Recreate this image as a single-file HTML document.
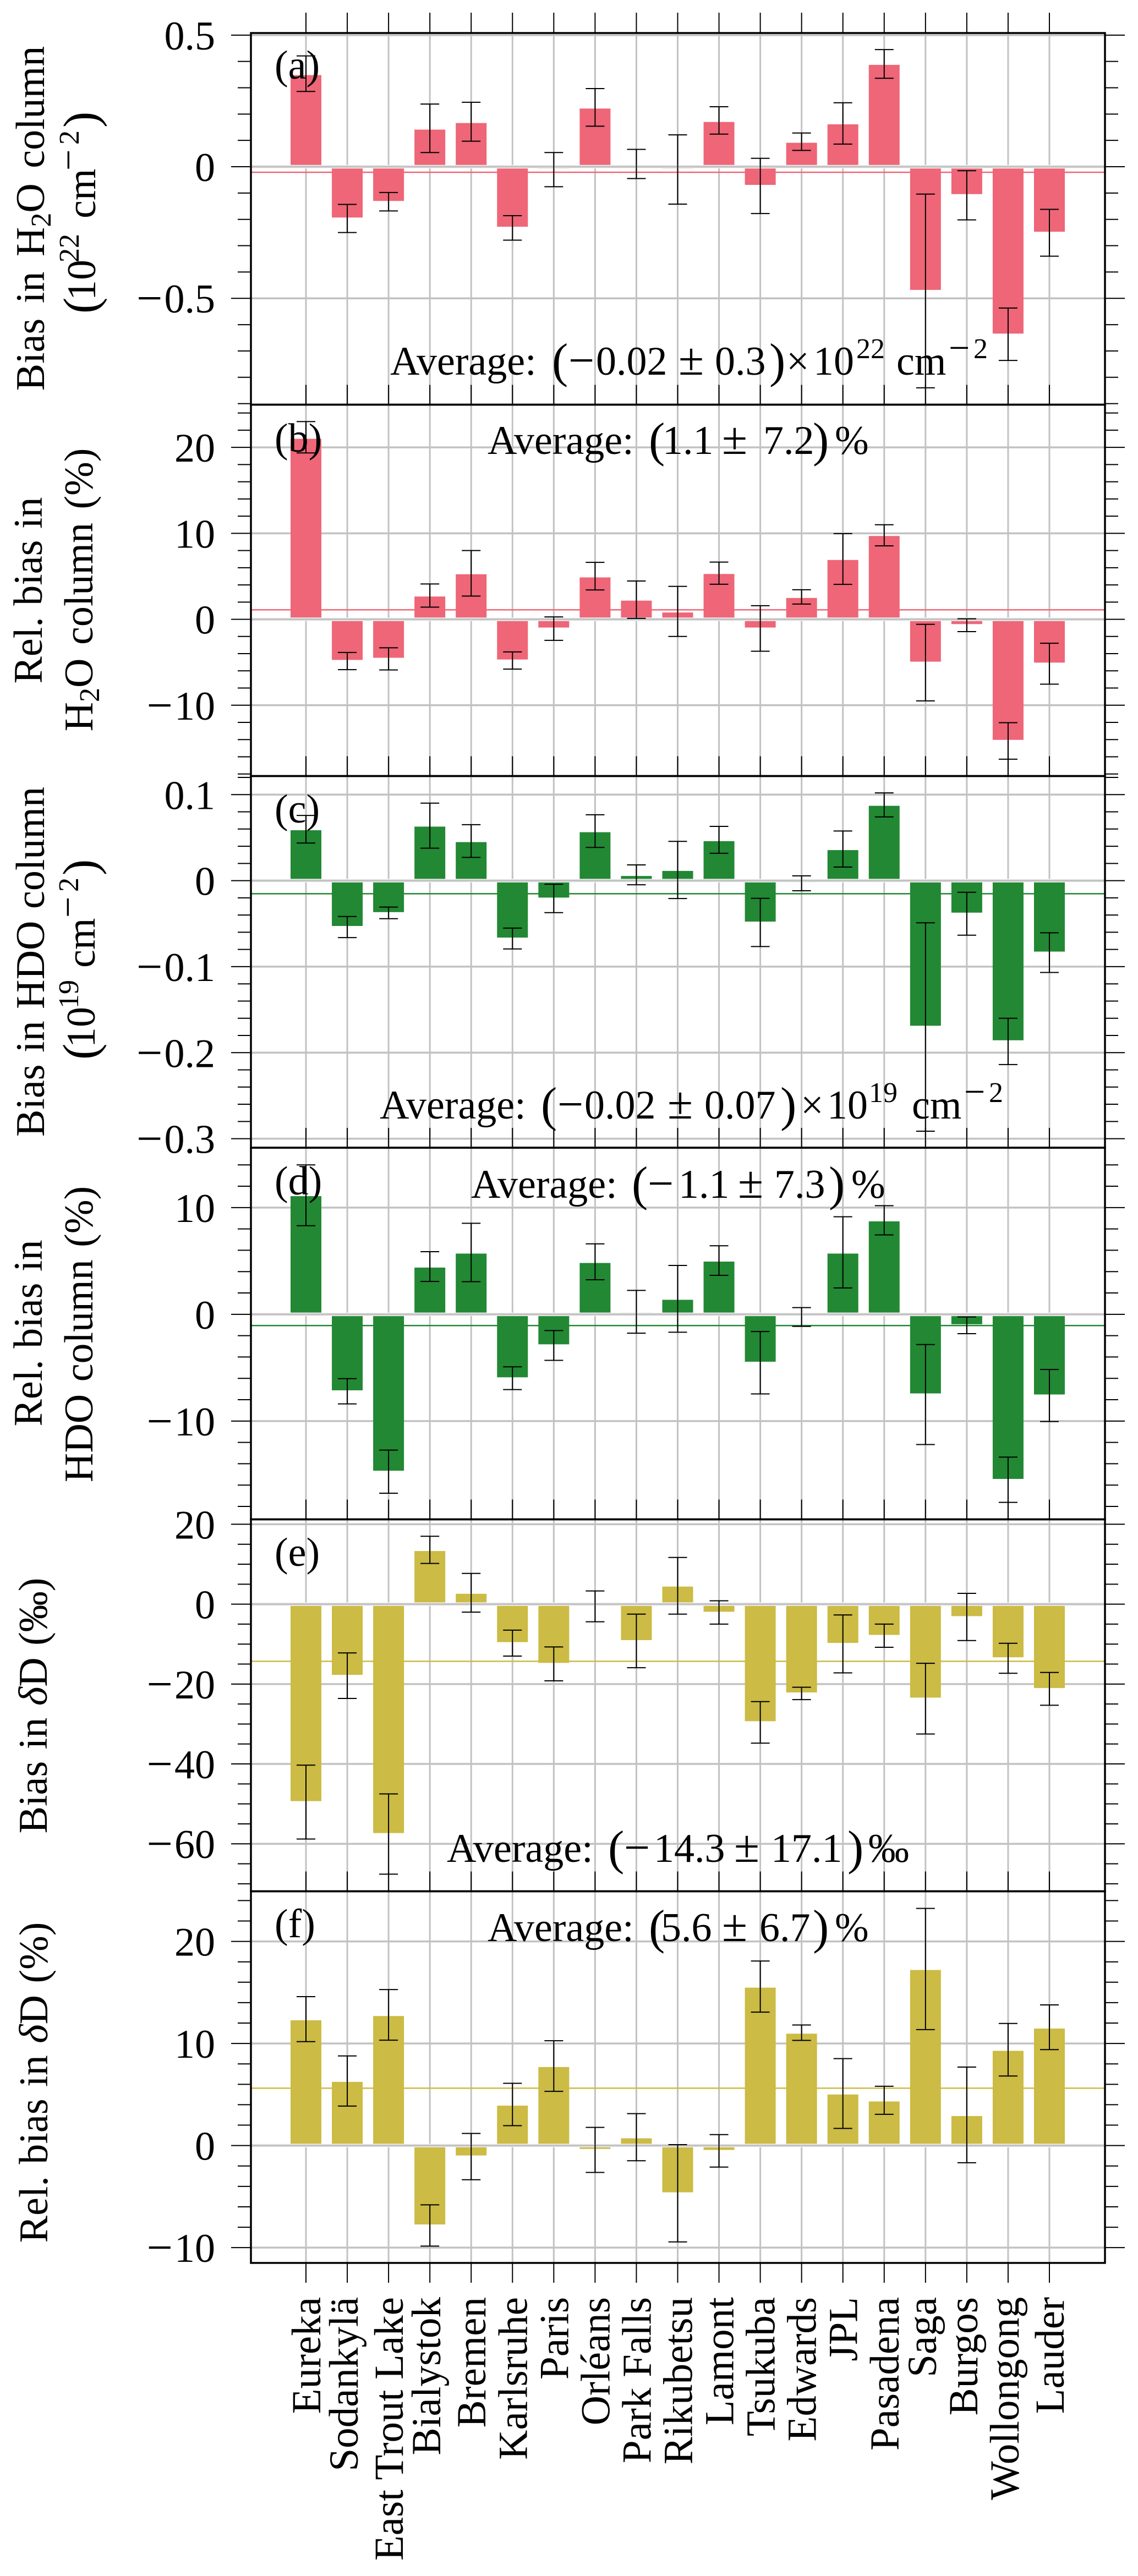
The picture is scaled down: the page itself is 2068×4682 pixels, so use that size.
<!DOCTYPE html>
<html lang="en">
<head>
<meta charset="utf-8">
<title>Bias per station</title>
<style>
html,body{margin:0;padding:0;background:#fff;}
svg{display:block;}
text{font-family:"Liberation Serif","DejaVu Serif",serif;font-size:74px;fill:#000;}
.sup{font-size:52px;}
.sub{font-size:52px;}
.paren{font-size:88px;}
.pm{font-size:84px;}
.supm{font-size:68px;}
</style>
</head>
<body>
<svg id="chart" xmlns="http://www.w3.org/2000/svg" width="2068" height="4682" viewBox="0 0 2068 4682">
<rect x="0" y="0" width="2068" height="4682" fill="#fff"/>
<g id="marks"></g>
<g id="frames"></g>
<g id="xlabels"></g>

<text x="499" y="143">(a)</text>
<text x="499" y="821">(b)</text>
<text x="499" y="1495">(c)</text>
<text x="499" y="2171">(d)</text>
<text x="499" y="2846">(e)</text>
<text x="499" y="3521">(f)</text>

<text x="709" y="681">Average:<tspan class="paren" x="1003" dy="4">(</tspan><tspan class="pm" x="1033" dy="-2">−</tspan><tspan x="1083" dy="-2">0.02</tspan><tspan class="pm" x="1233">±</tspan><tspan x="1299">0.3</tspan><tspan class="paren" x="1398" dy="4">)</tspan><tspan x="1429" dy="-4">×</tspan><tspan x="1478">10</tspan><tspan class="sup" x="1556" dy="-30">22</tspan><tspan x="1629" dy="30">cm</tspan><tspan class="supm" x="1724" dy="-26">−</tspan><tspan class="sup" x="1769" dy="-4">2</tspan></text>
<text x="886" y="825">Average:<tspan class="paren" x="1179" dy="4">(</tspan><tspan x="1204" dy="-4">1.1</tspan><tspan class="pm" x="1312">±</tspan><tspan x="1387">7.2</tspan><tspan class="paren" x="1477" dy="4">)</tspan><tspan x="1517" dy="-4">%</tspan></text>
<text x="690" y="2033">Average:<tspan class="paren" x="983" dy="4">(</tspan><tspan class="pm" x="1013" dy="-2">−</tspan><tspan x="1062" dy="-2">0.02</tspan><tspan class="pm" x="1213">±</tspan><tspan x="1280">0.07</tspan><tspan class="paren" x="1418" dy="4">)</tspan><tspan x="1455" dy="-4">×</tspan><tspan x="1503">10</tspan><tspan class="sup" x="1579" dy="-30">19</tspan><tspan x="1657" dy="30">cm</tspan><tspan class="supm" x="1752" dy="-26">−</tspan><tspan class="sup" x="1797" dy="-4">2</tspan></text>
<text x="856" y="2177">Average:<tspan class="paren" x="1148" dy="4">(</tspan><tspan class="pm" x="1177" dy="-2">−</tspan><tspan x="1233" dy="-2">1.1</tspan><tspan class="pm" x="1341">±</tspan><tspan x="1407">7.3</tspan><tspan class="paren" x="1506" dy="4">)</tspan><tspan x="1547" dy="-4">%</tspan></text>
<text x="812" y="3384">Average:<tspan class="paren" x="1105" dy="4">(</tspan><tspan class="pm" x="1134" dy="-2">−</tspan><tspan x="1188" dy="-2">14.3</tspan><tspan class="pm" x="1334">±</tspan><tspan x="1401">17.1</tspan><tspan class="paren" x="1540" dy="4">)</tspan><tspan x="1578" dy="-4">‰</tspan></text>
<text x="886" y="3528">Average:<tspan class="paren" x="1179" dy="4">(</tspan><tspan x="1201" dy="-4">5.6</tspan><tspan class="pm" x="1312">±</tspan><tspan x="1380">6.7</tspan><tspan class="paren" x="1477" dy="4">)</tspan><tspan x="1517" dy="-4">%</tspan></text>

<g>
<text style="word-spacing:9px" transform="translate(80 397) rotate(-90)" text-anchor="middle">Bias in H<tspan class="sub" dy="12">2</tspan><tspan dy="-12">O column</tspan></text>
<text transform="translate(173 570) rotate(-90)"><tspan class="paren" x="0" dy="3">(</tspan><tspan x="24" dy="-3">10</tspan><tspan class="sup" x="93" dy="-30">22</tspan><tspan x="173" dy="30">cm</tspan><tspan class="supm" x="260" dy="-26">−</tspan><tspan class="sup" x="307" dy="-4">2</tspan><tspan class="paren" x="338" dy="33">)</tspan></text>
</g>
<g>
<text style="word-spacing:2px" transform="translate(76 1073) rotate(-90)" text-anchor="middle">Rel. bias in</text>
<text style="word-spacing:6px" transform="translate(168 1072) rotate(-90)" text-anchor="middle">H<tspan class="sub" dy="12">2</tspan><tspan dy="-12">O column (%)</tspan></text>
</g>
<g>
<text style="word-spacing:3px" transform="translate(80 1748) rotate(-90)" text-anchor="middle">Bias in HDO column</text>
<text transform="translate(172 1926) rotate(-90)"><tspan class="paren" x="0" dy="3">(</tspan><tspan x="22" dy="-3">10</tspan><tspan class="sup" x="93" dy="-30">19</tspan><tspan x="167" dy="30">cm</tspan><tspan class="supm" x="258" dy="-26">−</tspan><tspan class="sup" x="305" dy="-4">2</tspan><tspan class="paren" x="335" dy="33">)</tspan></text>
</g>
<g>
<text style="word-spacing:2px" transform="translate(76 2423) rotate(-90)" text-anchor="middle">Rel. bias in</text>
<text style="word-spacing:4px" transform="translate(168 2425) rotate(-90)" text-anchor="middle">HDO column (%)</text>
</g>
<text style="word-spacing:3px" transform="translate(85 3100) rotate(-90)" text-anchor="middle">Bias in <tspan font-style="italic">δ</tspan>D (‰)</text>
<text style="word-spacing:3px" transform="translate(86 3785) rotate(-90)" text-anchor="middle">Rel. bias in <tspan font-style="italic">δ</tspan>D (%)</text>
</svg>

<script>
const stations = ["Eureka","Sodankylä","East Trout Lake","Bialystok","Bremen","Karlsruhe","Paris","Orléans","Park Falls","Rikubetsu","Lamont","Tsukuba","Edwards","JPL","Pasadena","Saga","Burgos","Wollongong","Lauder"];

const aValues = [0.348,-0.193,-0.130,0.141,0.166,-0.228,-0.007,0.221,0.005,-0.007,0.170,-0.069,0.091,0.161,0.387,-0.468,-0.104,-0.634,-0.247];
const aUpper  = [0.421,-0.143,-0.098,0.238,0.245,-0.186,0.054,0.297,0.066,0.121,0.228,0.032,0.128,0.243,0.445,-0.104,-0.015,-0.537,-0.162];
const aLower  = [0.286,-0.250,-0.168,0.054,0.097,-0.279,-0.076,0.154,-0.045,-0.142,0.124,-0.178,0.062,0.086,0.336,-0.840,-0.202,-0.736,-0.340];
const aAverage = -0.021;
const aTicks = [0.5,0,-0.5];

const bValues = [21.0,-4.73,-4.48,2.65,5.24,-4.68,-0.96,4.87,2.17,0.79,5.27,-0.96,2.48,6.90,9.69,-4.93,-0.56,-14.03,-5.04];
const bUpper  = [23.0,-3.86,-3.32,4.11,8.00,-3.80,0.28,6.62,4.45,3.83,6.65,1.58,3.44,9.97,11.0,-0.59,0.06,-12.03,-2.79];
const bLower  = [19.35,-5.86,-5.89,1.41,2.70,-5.80,-2.45,3.41,0.11,-2.00,4.08,-3.72,1.77,4.06,8.54,-9.49,-1.44,-16.28,-7.55];
const bAverage = 1.1;
const bTicks = [20,10,0,-10];

const cValues = [0.0586,-0.0527,-0.0366,0.0628,0.0448,-0.0662,-0.0197,0.0563,0.0054,0.0113,0.0459,-0.0476,-0.0020,0.0355,0.0870,-0.1687,-0.0372,-0.1856,-0.0825];
const cUpper  = [0.0758,-0.0417,-0.0307,0.0901,0.0651,-0.0552,-0.0042,0.0766,0.0183,0.0456,0.0631,-0.0206,0.0056,0.0577,0.1020,-0.0490,-0.0135,-0.1600,-0.0606];
const cLower  = [0.0437,-0.0662,-0.0442,0.0377,0.0270,-0.0794,-0.0372,0.0386,-0.0048,-0.0208,0.0318,-0.0766,-0.0118,0.0158,0.0741,-0.2913,-0.0634,-0.2138,-0.1068];
const cAverage = -0.0152;
const cTicks = [0.1,0,-0.1,-0.2,-0.3];

const dValues = [11.07,-7.12,-14.65,4.38,5.69,-5.90,-2.81,4.81,0.16,1.36,4.94,-4.44,-0.16,5.69,8.71,-7.41,-0.93,-15.42,-7.51];
const dUpper  = [14.0,-6.03,-12.72,5.87,8.53,-4.92,-1.52,6.60,2.24,4.58,6.42,-1.61,0.63,9.14,10.18,-2.83,-0.25,-13.38,-5.17];
const dLower  = [8.3,-8.39,-16.76,3.08,3.06,-7.05,-4.31,3.24,-1.77,-1.68,3.65,-7.46,-1.13,2.47,7.44,-12.2,-1.81,-17.62,-10.05];
const dAverage = -1.05;
const dTicks = [10,0,-10];

const eValues = [-49.3,-17.7,-57.3,13.3,2.6,-9.5,-14.7,-0.3,-9.0,4.4,-1.9,-29.3,-22.1,-9.7,-7.7,-23.4,-3.0,-13.3,-21.0];
const eUpper  = [-40.3,-12.2,-47.5,17.0,7.7,-6.5,-10.7,3.3,-2.5,11.7,0.85,-24.4,-20.8,-2.7,-5.0,-14.8,2.7,-9.8,-17.1];
const eLower  = [-58.8,-23.6,-67.6,10.2,-2.0,-13.0,-19.2,-4.4,-15.9,-2.5,-5.0,-34.8,-23.9,-17.2,-10.8,-32.5,-9.1,-17.3,-25.3];
const eAverage = -14.3;
const eTicks = [20,0,-20,-40,-60];

const fValues = [12.27,6.24,12.69,-7.73,-0.97,3.91,7.69,-0.33,0.71,-4.58,-0.43,15.47,10.96,5.0,4.32,17.2,2.89,9.28,11.46];
const fUpper  = [14.59,8.78,15.28,-5.81,1.19,6.10,10.27,1.78,3.13,0.09,1.07,18.08,11.81,8.52,5.81,23.23,7.69,11.96,13.78];
const fLower  = [10.18,3.87,10.32,-9.85,-3.35,1.95,5.31,-2.63,-1.49,-9.44,-2.11,13.07,10.30,1.68,3.06,11.36,-1.68,6.81,9.40];
const fAverage = 5.62;
const fTicks = [20,10,0,-10];

const NS = "http://www.w3.org/2000/svg";
const marks = document.getElementById("marks");
const frames = document.getElementById("frames");
const xlabels = document.getElementById("xlabels");
const plotLeft = 456, plotRight = 2008;
const firstStationX = 556, lastStationX = 1907;
const GRID = "#c2c2c2";

function xScale(i) {
  return firstStationX + i * (lastStationX - firstStationX) / (stations.length - 1);
}

function makeLine(parent, x1, y1, x2, y2, color, width) {
  const el = document.createElementNS(NS, "line");
  el.setAttribute("x1", x1);
  el.setAttribute("y1", y1);
  el.setAttribute("x2", x2);
  el.setAttribute("y2", y2);
  el.setAttribute("stroke", color);
  el.setAttribute("stroke-width", width);
  parent.appendChild(el);
  return el;
}

function drawPanel(id, values, upper, lower, average, ticks, minorStep, domTop, domBottom, top, bottom, color, outTop, outBottom) {
  const y = v => top + (domTop - v) * (bottom - top) / (domTop - domBottom);
  const g = document.createElementNS(NS, "g");
  
  
  marks.appendChild(g);

  stations.forEach((s, i) => {
    const grid = makeLine(g, xScale(i), top, xScale(i), bottom, GRID, 3);
    
    
  });

  ticks.forEach(t => {
    if (t === 0) return;
    const grid = makeLine(g, plotLeft, y(t), plotRight, y(t), GRID, 3.5);
    
    
  });

  const avg = makeLine(g, plotLeft, y(average), plotRight, y(average), color, 2.5);
  
  

  values.forEach((v, i) => {
    const bar = document.createElementNS(NS, "rect");
    bar.setAttribute("x", xScale(i) - 28);
    bar.setAttribute("width", 56);
    bar.setAttribute("y", Math.min(y(v), y(0)));
    bar.setAttribute("height", Math.abs(y(v) - y(0)));
    bar.setAttribute("fill", color);
    
    
    g.appendChild(bar);
  });

  const zeroHalo = makeLine(g, plotLeft, y(0), plotRight, y(0), "#f4f4f4", 6.5);
  
  
  const zero = makeLine(g, plotLeft, y(0), plotRight, y(0), GRID, 3.5);
  
  

  values.forEach((v, i) => {
    const cx = xScale(i);
    const stem = makeLine(g, cx, y(upper[i]), cx, y(lower[i]), "#000", 2);
    
    
    const capU = makeLine(g, cx - 17, y(upper[i]), cx + 17, y(upper[i]), "#000", 2);
    
    
    const capL = makeLine(g, cx - 17, y(lower[i]), cx + 17, y(lower[i]), "#000", 2);
    
    
  });

  stations.forEach((s, i) => {
    const cx = xScale(i);
    const y1 = outBottom ? bottom : bottom - 36;
    const y2 = outBottom ? bottom + 36 : bottom;
    const tick = makeLine(g, cx, y1, cx, y2, "#000", 2);
    
    
    if (outTop) {
      const tickTop = makeLine(g, cx, top - 37, cx, top, "#000", 2);
      
      
    }
  });

  const n = Math.ceil(Math.max(Math.abs(domTop), Math.abs(domBottom)) / minorStep);
  for (let k = -n; k <= n; k++) {
    const v = k * minorStep;
    if (v > domTop || v < domBottom) continue;
    const t = y(v);
    const isMajor = ticks.some(m => Math.abs(m - v) < minorStep / 10);
    const len = isMajor ? 36 : 24;
    const left = makeLine(g, plotLeft - len, t, plotLeft, t, "#000", 2);
    
    
    const right = makeLine(g, plotRight, t, plotRight + len, t, "#000", 2);
    
    
  }

  ticks.forEach(t => {
    const label = document.createElementNS(NS, "text");
    label.setAttribute("x", 391);
    label.setAttribute("y", y(t) + 26);
    label.setAttribute("text-anchor", "end");
    if (t < 0) {
      const minus = document.createElementNS(NS, "tspan");
      minus.setAttribute("class", "pm");
      minus.setAttribute("dy", 2);
      minus.textContent = "−";
      label.appendChild(minus);
      const digits = document.createElementNS(NS, "tspan");
      digits.setAttribute("dy", -2);
      digits.setAttribute("dx", 3);
      digits.textContent = String(-t);
      label.appendChild(digits);
    } else {
      label.textContent = String(t);
    }
    
    
    g.appendChild(label);
  });

  const frame = document.createElementNS(NS, "rect");
  frame.setAttribute("x", plotLeft);
  frame.setAttribute("y", top);
  frame.setAttribute("width", plotRight - plotLeft);
  frame.setAttribute("height", bottom - top);
  frame.setAttribute("fill", "none");
  frame.setAttribute("stroke", "#000");
  frame.setAttribute("stroke-width", 3.5);
  
  
  frames.appendChild(frame);
}

drawPanel("a", aValues, aUpper, aLower, aAverage, aTicks, 0.1, 0.508, -0.904, 60, 735.5, "#EE6677", true, false);
drawPanel("b", bValues, bUpper, bLower, bAverage, bTicks, 2, 24.97, -18.24, 735.5, 1410.5, "#EE6677", false, false);
drawPanel("c", cValues, cUpper, cLower, cAverage, cTicks, 0.02, 0.1216, -0.3105, 1410.5, 2086, "#228833", false, false);
drawPanel("d", dValues, dUpper, dLower, dAverage, dTicks, 2, 15.61, -19.21, 2086, 2761.5, "#228833", false, false);
drawPanel("e", eValues, eUpper, eLower, eAverage, eTicks, 5, 21.23, -71.88, 2761.5, 3437.5, "#CCBB44", false, false);
drawPanel("f", fValues, fUpper, fLower, fAverage, fTicks, 2, 24.91, -11.50, 3437.5, 4113, "#CCBB44", false, true);

stations.forEach((s, i) => {
  const label = document.createElementNS(NS, "text");
  const offset = /[gjpqy]/.test(s) ? 19 : 26;
  label.setAttribute("transform", "translate(" + (xScale(i) + offset) + " 4175) rotate(-90)");
  label.setAttribute("text-anchor", "end");
  label.style.fontSize = "75px";
  label.textContent = s;
  
  
  xlabels.appendChild(label);
});
</script>
</body>
</html>
